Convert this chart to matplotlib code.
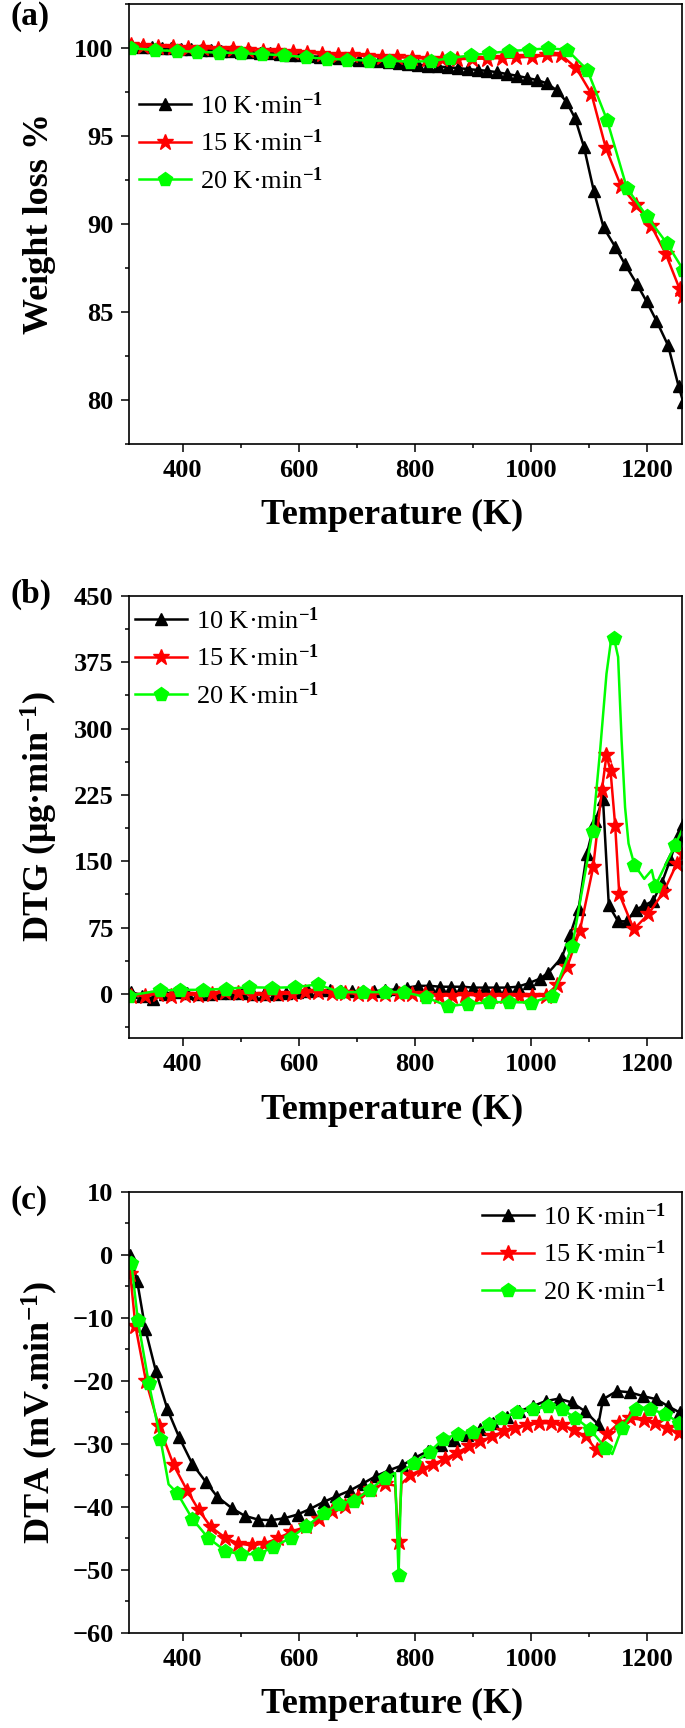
import matplotlib
matplotlib.use("Agg")
import matplotlib.pyplot as plt
from matplotlib.lines import Line2D
from matplotlib.ticker import MultipleLocator

plt.rcParams["font.family"] = ["Liberation Serif", "DejaVu Serif"]
plt.rcParams["font.weight"] = "bold"
plt.rcParams["axes.labelweight"] = "bold"
plt.rcParams["mathtext.fontset"] = "custom"
plt.rcParams["mathtext.rm"] = "Liberation Serif"
plt.rcParams["mathtext.it"] = "Liberation Serif:italic"
plt.rcParams["mathtext.bf"] = "Liberation Serif:bold"

rates = ["10 K·min$^{\\mathrm{-1}}$", "15 K·min$^{\\mathrm{-1}}$", "20 K·min$^{\\mathrm{-1}}$"]
colors = ["black", "#ff0000", "#00ff00"]
markers = ["^", "*", "p"]
msizes = [9, 12, 10]

# ---- (a) weight loss % ----
t_a_10 = [313, 330, 347, 364, 381, 398, 415, 432, 449, 466, 483, 500, 517, 534, 551, 568,
          585, 602, 619, 636, 653, 670, 687, 704, 721, 738, 755, 772, 789, 806, 823, 840,
          857, 874, 891, 908, 925, 942, 959, 976, 993, 1010, 1027, 1044, 1061, 1076, 1091,
          1108, 1125, 1145, 1162, 1182, 1199, 1216, 1236, 1254, 1262]
w_a_10 = [100.10, 100.08, 100.05, 100.02, 99.99, 99.96, 99.93, 99.91, 99.88, 99.85, 99.82,
          99.79, 99.76, 99.72, 99.69, 99.65, 99.62, 99.58, 99.54, 99.50, 99.46, 99.42, 99.38,
          99.34, 99.29, 99.25, 99.20, 99.15, 99.10, 99.05, 99.00, 98.95, 98.90, 98.86, 98.80,
          98.75, 98.70, 98.62, 98.52, 98.42, 98.30, 98.18, 98.00, 97.60, 96.95, 96.0, 94.4,
          91.9, 89.8, 88.7, 87.7, 86.6, 85.6, 84.5, 83.1, 80.8, 79.9]
t_a_15 = [312, 332, 358, 384, 410, 435, 461, 487, 512, 538, 564, 590, 615, 641, 667, 692,
          718, 744, 770, 795, 821, 847, 872, 898, 924, 950, 975, 1001, 1027, 1052, 1078,
          1104, 1129, 1155, 1181, 1207, 1232, 1256, 1262]
w_a_15 = [100.15, 100.12, 100.08, 100.05, 100.02, 99.99, 99.95, 99.92, 99.88, 99.84, 99.80,
          99.76, 99.72, 99.67, 99.62, 99.58, 99.54, 99.50, 99.47, 99.44, 99.40, 99.38, 99.37,
          99.38, 99.40, 99.43, 99.46, 99.50, 99.58, 99.60, 98.85, 97.4, 94.3, 92.15, 91.1,
          89.9, 88.3, 86.3, 85.9]
t_a_20 = [312, 353, 391, 425, 462, 500, 537, 575, 612, 649, 684, 721, 755, 791, 827, 861,
          896, 928, 963, 996, 1030, 1062, 1097, 1131, 1165, 1199, 1234, 1262]
w_a_20 = [100.0, 99.87, 99.83, 99.78, 99.74, 99.71, 99.65, 99.58, 99.48, 99.38, 99.34,
          99.28, 99.28, 99.22, 99.25, 99.42, 99.58, 99.70, 99.82, 99.90, 99.98, 99.90,
          98.75, 95.9, 92.05, 90.45, 88.9, 87.4]

# ---- (b) DTG ----
t_b_10 = [312, 331, 350, 369, 388, 407, 426, 445, 464, 483, 502, 521, 540, 559, 578, 597,
          616, 635, 654, 673, 692, 711, 730, 749, 768, 787, 806, 825, 844, 863, 882, 901,
          920, 939, 958, 977, 996, 1015, 1030, 1053, 1067, 1082, 1096, 1110, 1124, 1134,
          1150, 1165, 1180, 1195, 1210, 1225, 1240, 1253, 1262]
g_b_10 = [2, -2, -6, 0, 2, 1, 0, 0, 1, 1, 1, 0, 0, 0, 1, 2, 3, 4, 4, 3, 3, 3, 3, 4, 5, 7,
          9, 9, 8, 8, 8, 7, 7, 7, 7, 8, 12, 17, 24, 41, 66, 96, 158, 195, 220, 100, 82, 82,
          95, 100, 105, 125, 152, 178, 192]
t_b_15 = [312, 335, 358, 381, 404, 427, 450, 473, 496, 519, 542, 565, 588, 611, 634, 657,
          680, 703, 726, 749, 772, 795, 818, 841, 864, 887, 910, 933, 956, 979, 1002, 1025,
          1045, 1062, 1084, 1107, 1122, 1130, 1137, 1145, 1152, 1177, 1202, 1228, 1251, 1262]
g_b_15 = [-2, -2, 0, -2, -1, -1, 0, 2, 1, -1, -1, 0, 0, 2, 2, 1, 1, 0, 0, 0, 0, 0, 0, -2,
          -2, -1, -2, -2, -2, -2, -3, -2, 10, 30, 71, 143, 230, 270, 252, 190, 113, 73, 90,
          115, 147, 158]
t_b_20 = [308, 361, 396, 435, 475, 515, 554, 594, 633, 671, 710, 748, 782, 819, 857, 891,
          928, 962, 1000, 1037, 1071, 1106, 1119, 1130, 1137, 1143, 1150, 1156, 1162, 1168,
          1178, 1195, 1208, 1214, 1248, 1262]
g_b_20 = [-2, 3.8, 4.5, 4.5, 5.7, 7.5, 6.8, 7.5, 10.6, 1.9, 1.9, 1.9, 1.9, -3.8, -14,
          -11.5, -9.6, -9.3, -10, -2.5, 54, 184, 275, 362, 396, 402, 381, 287, 211, 170,
          146, 130, 140, 122, 168, 188]
plain_b_20 = [1119, 1130, 1137, 1150, 1156, 1162, 1168, 1195, 1208, 1262]

# ---- (c) DTA ----
t_c_10 = [310, 322, 336, 354, 374, 394, 417, 440, 460, 485, 507, 530, 552, 575, 598, 620,
          643, 665, 688, 710, 733, 755, 778, 800, 823, 845, 868, 890, 913, 935, 958, 980,
          1003, 1025, 1048, 1070, 1093, 1116, 1124, 1148, 1170, 1193, 1216, 1236, 1256, 1262]
d_c_10 = [0, -4.2, -11.8, -18.4, -24.5, -28.9, -33.2, -36.0, -38.4, -40.2, -41.4, -42.0,
          -42.1, -41.8, -41.2, -40.3, -39.2, -38.3, -37.4, -36.3, -35.1, -34.2, -33.4, -32.2,
          -31.1, -30.2, -29.4, -28.6, -27.6, -26.7, -25.7, -24.8, -24.0, -23.2, -22.8, -23.4,
          -24.8, -26.9, -22.9, -21.6, -21.8, -22.4, -22.9, -24.0, -25.0, -25.4]
t_c_15 = [310, 319, 337, 359, 385, 408, 428, 449, 474, 496, 519, 541, 564, 586, 613, 635,
          658, 680, 703, 725, 748, 766, 772, 777, 792, 812, 832, 852, 872, 893, 913, 933,
          953, 973, 993, 1013, 1034, 1054, 1074, 1094, 1113, 1131, 1151, 1171, 1194, 1214,
          1235, 1255, 1262]
d_c_15 = [-3, -11.3, -20, -27.1, -33.4, -37.4, -40.5, -43.2, -44.9, -45.8, -46.1, -45.8,
          -45.0, -44.0, -43.1, -41.9, -40.7, -39.8, -38.4, -37.1, -36.3, -36.6, -45.5, -36.3,
          -35.0, -34.0, -33.2, -32.4, -31.4, -30.4, -29.6, -28.8, -28.0, -27.5, -27.0, -26.7,
          -26.7, -27.0, -27.8, -28.8, -31.0, -28.4, -26.7, -25.9, -26.2, -26.7, -27.5, -28.3,
          -28.6]
plain_c_15 = [766, 777, 1262]
t_c_20 = [312, 323, 342, 362, 376, 391, 417, 444, 474, 500, 530, 556, 586, 613, 643, 669,
          695, 722, 748, 766, 772, 777, 798, 826, 849, 875, 901, 927, 950, 976, 1004, 1030,
          1053, 1076, 1102, 1128, 1140, 1157, 1180, 1205, 1231, 1254, 1262]
d_c_20 = [-1.3, -10.3, -20.4, -29.2, -36.4, -37.8, -41.9, -44.9, -47.0, -47.5, -47.5,
          -46.4, -44.9, -43.1, -41.0, -39.5, -39.0, -37.3, -35.4, -34.6, -50.8, -34.5, -33.0,
          -31.2, -29.2, -28.4, -28.1, -26.9, -25.8, -25.0, -24.5, -24.0, -24.5, -25.8, -27.7,
          -30.6, -31.6, -27.4, -24.5, -24.5, -25.2, -26.6, -27.0]
plain_c_20 = [376, 766, 777, 1140, 1262]

panels = [
    dict(series=[(t_a_10, w_a_10, []), (t_a_15, w_a_15, []), (t_a_20, w_a_20, [])],
         rect=[0.1876, 0.7431, 0.808, 0.2546], ylim=(77.5, 102.5), major=5, minor=2.5,
         ylabel="Weight loss %", tag="(a)", tag_y=1 - 17 / 1728,
         leg=(0.019, 0.800)),
    dict(series=[(t_b_10, g_b_10, []), (t_b_15, g_b_15, []), (t_b_20, g_b_20, plain_b_20)],
         rect=[0.1876, 0.3993, 0.808, 0.2558], ylim=(-50, 450), major=75, minor=37.5,
         ylabel="DTG (μg·min$^{\\mathbf{-1}}$)", tag="(b)", tag_y=1 - 594 / 1728,
         leg=(0.011, 0.975)),
    dict(series=[(t_c_10, d_c_10, []), (t_c_15, d_c_15, plain_c_15), (t_c_20, d_c_20, plain_c_20)],
         rect=[0.1876, 0.0550, 0.808, 0.2552], ylim=(-60, 10), major=10, minor=5,
         ylabel="DTA (mV.min$^{\\mathbf{-1}}$)", tag="(c)", tag_y=1 - 1200 / 1728,
         leg=(0.638, 0.975)),
]

fig = plt.figure(figsize=(6.85, 17.28), dpi=100)

for p in panels:
    ax = fig.add_axes(p["rect"])
    for (t, v, plain), c, m, ms in zip(p["series"], colors, markers, msizes):
        mask = [x not in plain for x in t]
        ax.plot(t, v, color=c, lw=1.8, marker=m, ms=ms, mec=c, mfc=c, markevery=mask)
    ax.set_xlim(307, 1260)
    ax.set_ylim(*p["ylim"])
    ax.xaxis.set_major_locator(MultipleLocator(200))
    ax.xaxis.set_minor_locator(MultipleLocator(100))
    ax.yaxis.set_major_locator(MultipleLocator(p["major"]))
    ax.yaxis.set_minor_locator(MultipleLocator(p["minor"]))
    ax.tick_params(which="major", direction="out", length=5.8, width=1.1, labelsize=19, pad=5)
    ax.tick_params(which="minor", direction="out", length=3.2, width=1.1)
    for s in ax.spines.values():
        s.set_linewidth(1.2)
    ax.set_xlabel("Temperature (K)", fontsize=26, va="center")
    ax.xaxis.set_label_coords(0.476, -72 / 441)
    ax.set_ylabel(p["ylabel"], fontsize=26, va="center")
    ax.yaxis.set_label_coords(-0.16, 0.5)

    handles = [Line2D([], [], color=c, lw=1.8, marker=m, ms=ms, mec=c, mfc=c)
               for c, m, ms in zip(colors, markers, msizes)]
    ax.legend(handles, rates, loc="upper left", bbox_to_anchor=p["leg"], frameon=False,
              prop={"size": 19, "weight": "normal"}, handlelength=1.97, handletextpad=0.34,
              labelspacing=0.42, borderpad=0, borderaxespad=0)
    fig.text(10 / 685, p["tag_y"], p["tag"], fontsize=24, fontweight="bold",
             ha="left", va="center")

fig.savefig("out.png", dpi=100)
